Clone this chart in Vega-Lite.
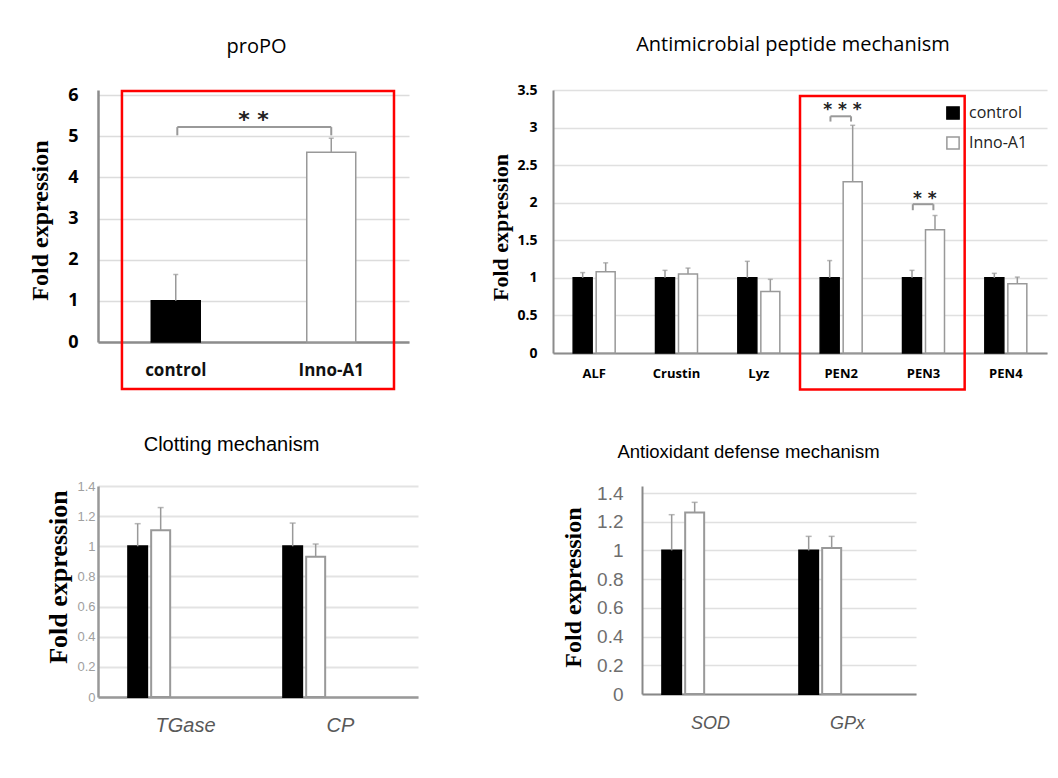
{
  "$schema": "https://vega.github.io/schema/vega-lite/v6.json",
  "padding": {"left": 28, "top": 35, "right": 5, "bottom": 5},
  "background": "#ffffff",
  "config": {
    "view": {"stroke": null},
    "axis": {"ticks": false, "tickSize": 0, "labelAngle": 0, "labelOverlap": false}
  },
  "columns": 1,
  "align": "none",
  "spacing": 44,
  "resolve": {"legend": {"fill": "independent", "stroke": "independent"}},
  "concat": [
    {
      "columns": 2,
      "align": "none",
      "spacing": 79,
      "resolve": {"legend": {"fill": "independent", "stroke": "independent"}},
      "concat": [
        {
          "width": 311,
          "height": 252,
          "title": {"text": "proPO", "font": "Open Sans", "fontSize": 20, "fontWeight": "normal", "color": "#000", "frame": "group", "anchor": "middle", "offset": 9, "dx": 3, "baseline": "bottom"},
          "data": {"values": [
            {"gene": "control", "grp": "control", "mean": 1, "upper": 1.64},
            {"gene": "Inno-A1", "grp": "Inno-A1", "mean": 4.61, "upper": 4.95}
          ]},
          "layer": [
            {
              "mark": {"type": "bar", "width": {"band": 0.315}, "strokeWidth": 1.5},
              "encoding": {
                "x": {"field": "gene", "type": "nominal", "title": null,
                  "scale": {"domain": ["control", "Inno-A1"], "paddingInner": 0, "paddingOuter": 0},
                  "axis": {"labelFont": "Open Sans", "labelFontSize": 17, "labelFontWeight": "bold", "labelColor": "#111", "labelPadding": 20, "domainColor": "#8c8c8c", "domainWidth": 2.5}},
                "y": {"field": "mean", "type": "quantitative", "title": "Fold expression",
                  "scale": {"domain": [0, 6.1215], "nice": false},
                  "axis": {"values": [0, 1, 2, 3, 4, 5, 6], "tickCount": 20, "format": "~g", "labelOverlap": false, "labelFont": "Open Sans", "labelFontSize": 18, "labelFontWeight": "bold", "labelColor": "#000", "labelPadding": 20,
                    "titleFont": "Liberation Serif", "titleFontSize": 24, "titleFontWeight": "bold", "titleColor": "#000", "titleX": -57.5, "titleY": 130, "titleBaseline": "middle", "titleAlign": "center", "titleAngle": -90,
                    "domainColor": "#8c8c8c", "domainWidth": 2.5, "grid": true, "gridColor": "#dcdcdc", "gridWidth": 1.5}},
                "fill": {"condition": {"test": "datum.grp === 'control'", "value": "#000000"}, "value": "#ffffff"},
                "stroke": {"condition": {"test": "datum.grp === 'control'", "value": "#000000"}, "value": "#999999"}
              }
            },
            {
              "mark": {"type": "rule", "color": "#999999", "strokeWidth": 1.5},
              "encoding": {
                "x": {"field": "gene", "type": "nominal", "title": null},
                "y": {"field": "mean", "type": "quantitative", "title": "Fold expression"},
                "y2": {"field": "upper"}
              }
            },
            {
              "mark": {"type": "tick", "orient": "horizontal", "size": 5, "thickness": 1.5, "color": "#999999"},
              "encoding": {
                "x": {"field": "gene", "type": "nominal", "title": null},
                "y": {"field": "upper", "type": "quantitative", "title": "Fold expression"}
              }
            },
            {
              "data": {"values": [{"c1": "control", "c2": "Inno-A1", "top": 6.1, "bottom": -1.14}]},
              "mark": {"type": "rect", "filled": false, "color": "#ff0000", "strokeWidth": 2.5},
              "encoding": {
                "x": {"field": "c1", "type": "nominal", "bandPosition": 0.154, "title": null},
                "x2": {"field": "c2", "bandPosition": 0.9035},
                "y": {"field": "top", "type": "quantitative", "title": "Fold expression"},
                "y2": {"field": "bottom"}
              }
            },
            {
              "data": {"values": [{"c1": "control", "c2": "Inno-A1", "yb": 5.22, "yl": 5.02, "ys": 5.51, "label": "* *"}]},
              "layer": [
                {
                  "mark": {"type": "rule", "color": "#999999", "strokeWidth": 2},
                  "encoding": {
                    "x": {"field": "c1", "type": "nominal", "bandPosition": 0.51, "title": null},
                    "x2": {"field": "c2", "bandPosition": 0.5},
                    "y": {"field": "yb", "type": "quantitative", "title": "Fold expression"}
                  }
                },
                {
                  "mark": {"type": "rule", "color": "#999999", "strokeWidth": 2},
                  "encoding": {
                    "x": {"field": "c1", "type": "nominal", "bandPosition": 0.51, "title": null},
                    "y": {"field": "yl", "type": "quantitative", "title": "Fold expression"},
                    "y2": {"field": "yb"}
                  }
                },
                {
                  "mark": {"type": "rule", "color": "#999999", "strokeWidth": 2},
                  "encoding": {
                    "x": {"field": "c2", "type": "nominal", "bandPosition": 0.5, "title": null},
                    "y": {"field": "yl", "type": "quantitative", "title": "Fold expression"},
                    "y2": {"field": "yb"}
                  }
                },
                {
                  "mark": {"type": "text", "font": "DejaVu Sans", "fontSize": 22, "fontWeight": "bold", "color": "#222", "baseline": "alphabetic", "align": "center", "dy": 12},
                  "encoding": {
                    "x": {"field": "c1", "type": "nominal", "bandPosition": 1, "title": null},
                    "y": {"field": "ys", "type": "quantitative", "title": "Fold expression"},
                    "text": {"field": "label"}
                  }
                }
              ]
            }
          ]
        },
        {
          "width": 494,
          "height": 263,
          "title": {"text": "Antimicrobial peptide mechanism", "font": "Open Sans", "fontSize": 20, "fontWeight": "normal", "color": "#000", "frame": "group", "anchor": "middle", "offset": 8, "dx": -7, "baseline": "bottom"},
          "data": {"values": [
            {"gene": "ALF", "grp": "control", "mean": 1, "upper": 1.07},
            {"gene": "ALF", "grp": "Inno-A1", "mean": 1.08, "upper": 1.2},
            {"gene": "Crustin", "grp": "control", "mean": 1, "upper": 1.1},
            {"gene": "Crustin", "grp": "Inno-A1", "mean": 1.05, "upper": 1.13},
            {"gene": "Lyz", "grp": "control", "mean": 1, "upper": 1.22},
            {"gene": "Lyz", "grp": "Inno-A1", "mean": 0.82, "upper": 0.98},
            {"gene": "PEN2", "grp": "control", "mean": 1, "upper": 1.23},
            {"gene": "PEN2", "grp": "Inno-A1", "mean": 2.28, "upper": 3.03},
            {"gene": "PEN3", "grp": "control", "mean": 1, "upper": 1.1},
            {"gene": "PEN3", "grp": "Inno-A1", "mean": 1.64, "upper": 1.83},
            {"gene": "PEN4", "grp": "control", "mean": 1, "upper": 1.06},
            {"gene": "PEN4", "grp": "Inno-A1", "mean": 0.92, "upper": 1.01}
          ]},
          "layer": [
            {
              "mark": {"type": "bar", "strokeWidth": 1.5},
              "encoding": {
                "x": {"field": "gene", "type": "nominal", "title": null,
                  "scale": {"domain": ["ALF", "Crustin", "Lyz", "PEN2", "PEN3", "PEN4"], "paddingInner": 0, "paddingOuter": 0},
                  "axis": {"labelFont": "Open Sans", "labelFontSize": 13, "labelFontWeight": "bold", "labelColor": "#000", "labelPadding": 14, "domainColor": "#8c8c8c", "domainWidth": 2}},
                "xOffset": {"field": "grp", "type": "nominal", "scale": {"domain": ["control", "Inno-A1"], "paddingInner": 0.174, "paddingOuter": 0.877}},
                "y": {"field": "mean", "type": "quantitative", "title": "Fold expression",
                  "scale": {"domain": [0, 3.5], "nice": false},
                  "axis": {"values": [0, 0.5, 1, 1.5, 2, 2.5, 3, 3.5], "tickCount": 20, "labelOverlap": false, "format": "~g", "labelFont": "Open Sans", "labelFontSize": 14, "labelFontWeight": "bold", "labelColor": "#000", "labelPadding": 16,
                    "titleFont": "Liberation Serif", "titleFontSize": 22, "titleFontWeight": "bold", "titleColor": "#000", "titleX": -53, "titleY": 137, "titleBaseline": "middle", "titleAlign": "center", "titleAngle": -90,
                    "domainColor": "#8c8c8c", "domainWidth": 2, "grid": true, "gridColor": "#e0e0e0", "gridWidth": 1.5}},
                "fill": {"field": "grp", "type": "nominal", "scale": {"domain": ["control", "Inno-A1"], "range": ["#000000", "#ffffff"]},
                  "legend": {"title": null, "orient": "none", "legendX": 392, "legendY": 15, "direction": "vertical", "symbolType": "square", "symbolSize": 150, "symbolStrokeWidth": 1.5, "labelFont": "Open Sans", "labelFontSize": 16, "labelColor": "#222", "rowPadding": 10, "labelOffset": 8, "padding": 0}},
                "stroke": {"field": "grp", "type": "nominal", "scale": {"domain": ["control", "Inno-A1"], "range": ["#000000", "#999999"]},
                  "legend": {"title": null, "orient": "none", "legendX": 392, "legendY": 15, "direction": "vertical", "symbolType": "square", "symbolSize": 150, "symbolStrokeWidth": 1.5, "labelFont": "Open Sans", "labelFontSize": 16, "labelColor": "#222", "rowPadding": 10, "labelOffset": 8, "padding": 0}}
              }
            },
            {
              "mark": {"type": "rule", "color": "#999999", "strokeWidth": 1.5},
              "encoding": {
                "x": {"field": "gene", "type": "nominal", "title": null},
                "xOffset": {"field": "grp", "type": "nominal"},
                "y": {"field": "mean", "type": "quantitative", "title": "Fold expression"},
                "y2": {"field": "upper"}
              }
            },
            {
              "mark": {"type": "tick", "orient": "horizontal", "size": 5, "thickness": 1.5, "color": "#999999"},
              "encoding": {
                "x": {"field": "gene", "type": "nominal", "title": null},
                "xOffset": {"field": "grp", "type": "nominal"},
                "y": {"field": "upper", "type": "quantitative", "title": "Fold expression"}
              }
            },
            {
              "data": {"values": [{"c1": "PEN2", "c2": "PEN3", "top": 3.42, "bottom": -0.485}]},
              "mark": {"type": "rect", "filled": false, "color": "#ff0000", "strokeWidth": 2.5},
              "encoding": {
                "x": {"field": "c1", "type": "nominal", "bandPosition": 0, "title": null},
                "x2": {"field": "c2", "bandPosition": 1},
                "y": {"field": "top", "type": "quantitative", "title": "Fold expression"},
                "y2": {"field": "bottom"}
              }
            },
            {
              "data": {"values": [
                {"c1": "PEN2", "yb": 3.15, "yl": 3.08, "ys": 3.29, "label": "* * *"},
                {"c1": "PEN3", "yb": 1.98, "yl": 1.9, "ys": 2.1, "label": "* *"}
              ]},
              "layer": [
                {
                  "mark": {"type": "rule", "color": "#999999", "strokeWidth": 2},
                  "encoding": {
                    "x": {"field": "c1", "type": "nominal", "bandPosition": 0.37, "title": null},
                    "x2": {"field": "c1", "bandPosition": 0.62},
                    "y": {"field": "yb", "type": "quantitative", "title": "Fold expression"}
                  }
                },
                {
                  "mark": {"type": "rule", "color": "#999999", "strokeWidth": 2},
                  "encoding": {
                    "x": {"field": "c1", "type": "nominal", "bandPosition": 0.37, "title": null},
                    "y": {"field": "yl", "type": "quantitative", "title": "Fold expression"},
                    "y2": {"field": "yb"}
                  }
                },
                {
                  "mark": {"type": "rule", "color": "#999999", "strokeWidth": 2},
                  "encoding": {
                    "x": {"field": "c1", "type": "nominal", "bandPosition": 0.62, "title": null},
                    "y": {"field": "yl", "type": "quantitative", "title": "Fold expression"},
                    "y2": {"field": "yb"}
                  }
                },
                {
                  "mark": {"type": "text", "font": "DejaVu Sans", "fontSize": 17, "fontWeight": "bold", "color": "#222", "baseline": "alphabetic", "align": "center", "dy": 9},
                  "encoding": {
                    "x": {"field": "c1", "type": "nominal", "bandPosition": 0.515, "title": null},
                    "y": {"field": "ys", "type": "quantitative", "title": "Fold expression"},
                    "text": {"field": "label"}
                  }
                }
              ]
            }
          ]
        }
      ]
    },
    {
      "columns": 2,
      "align": "none",
      "spacing": 142,
      "resolve": {"legend": {"fill": "independent", "stroke": "independent"}},
      "concat": [
        {
          "width": 320,
          "height": 211,
          "title": {"text": "Clotting mechanism", "font": "Liberation Sans", "fontSize": 20, "fontWeight": "normal", "color": "#000", "frame": "bounds", "anchor": "middle", "offset": 5, "baseline": "bottom"},
          "data": {"values": [
            {"gene": "TGase", "grp": "control", "mean": 1, "upper": 1.15},
            {"gene": "TGase", "grp": "Inno-A1", "mean": 1.107, "upper": 1.257},
            {"gene": "CP", "grp": "control", "mean": 1, "upper": 1.154},
            {"gene": "CP", "grp": "Inno-A1", "mean": 0.93, "upper": 1.015}
          ]},
          "layer": [
            {
              "mark": {"type": "bar", "strokeWidth": 2},
              "encoding": {
                "x": {"field": "gene", "type": "nominal", "title": null,
                  "scale": {"domain": ["TGase", "CP"], "paddingInner": 0, "paddingOuter": 0.03226, "align": 1},
                  "axis": {"labelFont": "Liberation Sans", "labelFontSize": 20, "labelFontStyle": "italic", "labelColor": "#595959", "labelPadding": 18, "domainColor": "#999999", "domainWidth": 2.5}},
                "xOffset": {"field": "grp", "type": "nominal", "scale": {"domain": ["control", "Inno-A1"], "paddingInner": 0.205, "paddingOuter": 0.87}},
                "y": {"field": "mean", "type": "quantitative", "title": "Fold expression",
                  "scale": {"domain": [0, 1.4], "nice": false},
                  "axis": {"values": [0, 0.2, 0.4, 0.6, 0.8, 1, 1.2, 1.4], "tickCount": 20, "labelOverlap": false, "format": "~g", "labelFont": "Liberation Sans", "labelFontSize": 13, "labelColor": "#a0a0a0", "labelPadding": 3,
                    "titleFont": "Liberation Serif", "titleFontSize": 26, "titleFontWeight": "bold", "titleColor": "#000", "titleX": -40, "titleY": 90.5, "titleBaseline": "middle", "titleAlign": "center", "titleAngle": -90,
                    "domainColor": "#999999", "domainWidth": 2.5, "grid": true, "gridColor": "#e3e3e3", "gridWidth": 2}},
                "fill": {"condition": {"test": "datum.grp === 'control'", "value": "#000000"}, "value": "#ffffff"},
                "stroke": {"condition": {"test": "datum.grp === 'control'", "value": "#000000"}, "value": "#999999"}
              }
            },
            {
              "mark": {"type": "rule", "color": "#999999", "strokeWidth": 1.5},
              "encoding": {
                "x": {"field": "gene", "type": "nominal", "title": null},
                "xOffset": {"field": "grp", "type": "nominal"},
                "y": {"field": "mean", "type": "quantitative", "title": "Fold expression"},
                "y2": {"field": "upper"}
              }
            },
            {
              "mark": {"type": "tick", "orient": "horizontal", "size": 6, "thickness": 1.5, "color": "#999999"},
              "encoding": {
                "x": {"field": "gene", "type": "nominal", "title": null},
                "xOffset": {"field": "grp", "type": "nominal"},
                "y": {"field": "upper", "type": "quantitative", "title": "Fold expression"}
              }
            }
          ]
        },
        {
          "width": 274,
          "height": 208,
          "title": {"text": "Antioxidant defense mechanism", "font": "Liberation Sans", "fontSize": 18.5, "fontWeight": "normal", "color": "#000", "frame": "bounds", "anchor": "middle", "offset": 4, "dx": 10, "baseline": "bottom"},
          "data": {"values": [
            {"gene": "SOD", "grp": "control", "mean": 1, "upper": 1.249},
            {"gene": "SOD", "grp": "Inno-A1", "mean": 1.265, "upper": 1.335},
            {"gene": "GPx", "grp": "control", "mean": 1, "upper": 1.098},
            {"gene": "GPx", "grp": "Inno-A1", "mean": 1.017, "upper": 1.098}
          ]},
          "layer": [
            {
              "mark": {"type": "bar", "strokeWidth": 2},
              "encoding": {
                "x": {"field": "gene", "type": "nominal", "title": null,
                  "scale": {"domain": ["SOD", "GPx"], "paddingInner": 0, "paddingOuter": 0},
                  "axis": {"labelFont": "Liberation Sans", "labelFontSize": 18, "labelFontStyle": "italic", "labelColor": "#595959", "labelPadding": 20, "domainColor": "#888888", "domainWidth": 2}},
                "xOffset": {"field": "grp", "type": "nominal", "scale": {"domain": ["control", "Inno-A1"], "paddingInner": 0.25, "paddingOuter": 0.8375}},
                "y": {"field": "mean", "type": "quantitative", "title": "Fold expression",
                  "scale": {"domain": [0, 1.4488], "nice": false},
                  "axis": {"values": [0, 0.2, 0.4, 0.6, 0.8, 1, 1.2, 1.4], "tickCount": 20, "labelOverlap": false, "format": "~g", "labelFont": "Liberation Sans", "labelFontSize": 19, "labelColor": "#6e6e6e", "labelPadding": 19,
                    "titleFont": "Liberation Serif", "titleFontSize": 24, "titleFontWeight": "bold", "titleColor": "#000", "titleX": -69, "titleY": 101, "titleBaseline": "middle", "titleAlign": "center", "titleAngle": -90,
                    "domainColor": "#888888", "domainWidth": 2, "grid": true, "gridColor": "#e0e0e0", "gridWidth": 1.5}},
                "fill": {"condition": {"test": "datum.grp === 'control'", "value": "#000000"}, "value": "#ffffff"},
                "stroke": {"condition": {"test": "datum.grp === 'control'", "value": "#000000"}, "value": "#999999"}
              }
            },
            {
              "mark": {"type": "rule", "color": "#999999", "strokeWidth": 1.5},
              "encoding": {
                "x": {"field": "gene", "type": "nominal", "title": null},
                "xOffset": {"field": "grp", "type": "nominal"},
                "y": {"field": "mean", "type": "quantitative", "title": "Fold expression"},
                "y2": {"field": "upper"}
              }
            },
            {
              "mark": {"type": "tick", "orient": "horizontal", "size": 6, "thickness": 1.5, "color": "#999999"},
              "encoding": {
                "x": {"field": "gene", "type": "nominal", "title": null},
                "xOffset": {"field": "grp", "type": "nominal"},
                "y": {"field": "upper", "type": "quantitative", "title": "Fold expression"}
              }
            }
          ]
        }
      ]
    }
  ]
}
